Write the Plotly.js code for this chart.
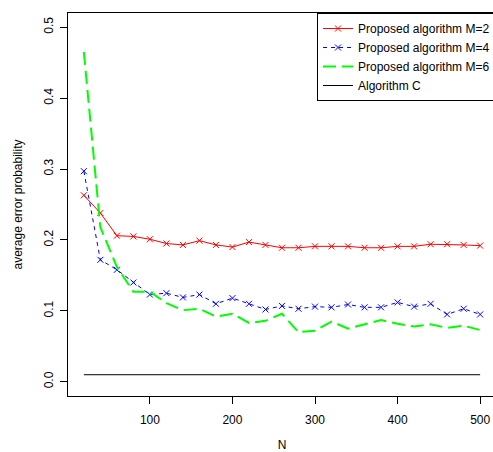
<!DOCTYPE html>
<html>
<head>
<meta charset="utf-8">
<script src="https://cdn.plot.ly/plotly-3.0.1.min.js"></script>
<style>
html, body { margin: 0; padding: 0; overflow: hidden; background: #fff; }
#chart { width: 498px; height: 452px; }
</style>
</head>
<body>
<div id="chart"></div>
<script>
var N = [20, 40, 60, 80, 100, 120, 140, 160, 180, 200, 220, 240, 260, 280, 300, 320, 340, 360, 380, 400, 420, 440, 460, 480, 500];
var m2 = [0.263, 0.238, 0.206, 0.205, 0.201, 0.195, 0.193, 0.199, 0.193, 0.190, 0.197, 0.193, 0.189, 0.189, 0.191, 0.191, 0.191, 0.189, 0.189, 0.191, 0.191, 0.194, 0.194, 0.193, 0.192];
var m4 = [0.297, 0.172, 0.158, 0.140, 0.123, 0.125, 0.119, 0.123, 0.110, 0.118, 0.110, 0.102, 0.107, 0.103, 0.106, 0.105, 0.109, 0.105, 0.105, 0.112, 0.106, 0.110, 0.095, 0.103, 0.095];
var m6 = [0.465, 0.218, 0.162, 0.127, 0.127, 0.111, 0.101, 0.103, 0.092, 0.096, 0.083, 0.086, 0.096, 0.070, 0.072, 0.085, 0.075, 0.081, 0.087, 0.082, 0.078, 0.081, 0.076, 0.079, 0.073];
var algC = [0.01, 0.01, 0.01, 0.01, 0.01, 0.01, 0.01, 0.01, 0.01, 0.01, 0.01, 0.01, 0.01, 0.01, 0.01, 0.01, 0.01, 0.01, 0.01, 0.01, 0.01, 0.01, 0.01, 0.01, 0.01];
var names = ["Proposed algorithm M=2", "Proposed algorithm M=4", "Proposed algorithm M=6", "Algorithm C"];

var font = "Liberation Sans, Arial, Helvetica, sans-serif";

var traces = [
  {x: N, y: m2, name: names[0], mode: "lines+markers", type: "scatter",
   line: {color: "#FF0000", width: 1},
   marker: {symbol: "x-thin-open", size: 6, color: "#FF0000", line: {color: "#FF0000", width: 1}}},
  {x: N, y: m4, name: names[1], mode: "lines+markers", type: "scatter",
   line: {color: "#0000FF", width: 1, dash: "4px,4px"},
   marker: {symbol: "x-thin-open", size: 6, color: "#0000FF", line: {color: "#0000FF", width: 1}}},
  {x: N, y: m6, name: names[2], mode: "lines", type: "scatter",
   line: {color: "#00FF00", width: 2, dash: "13px,6px"}},
  {x: N, y: algC, name: names[3], mode: "lines", type: "scatter",
   line: {color: "#000000", width: 1}}
];

var layout = {
  width: 498, height: 452,
  margin: {l: 68, r: 2, t: 13, b: 56, pad: 0},
  paper_bgcolor: "#fff", plot_bgcolor: "#fff",
  font: {family: font, size: 12, color: "#000"},
  showlegend: true,
  legend: {x: 1, xanchor: "right", y: 1, yanchor: "top",
           bgcolor: "#fff", bordercolor: "#000", borderwidth: 1,
           font: {family: font, size: 12, color: "#000"}},
  xaxis: {range: [0.8, 519.2], tickvals: [100, 200, 300, 400, 500],
          ticks: "outside", ticklen: 7, tickcolor: "#000", tickwidth: 1,
          ticklabelstandoff: 6,
          showline: true, mirror: true, linecolor: "#000", linewidth: 1,
          showgrid: false, zeroline: false,
          tickfont: {family: font, size: 12, color: "#000"},
          title: {text: "N", font: {family: font, size: 12, color: "#000"}, standoff: 16}},
  yaxis: {range: [-0.02, 0.52], tickvals: [0, 0.1, 0.2, 0.3, 0.4, 0.5],
          ticktext: ["0.0", "0.1", "0.2", "0.3", "0.4", "0.5"],
          tickangle: -90,
          ticks: "outside", ticklen: 7, tickcolor: "#000", tickwidth: 1,
          ticklabelstandoff: 2,
          showline: true, mirror: true, linecolor: "#000", linewidth: 1,
          showgrid: false, zeroline: false,
          tickfont: {family: font, size: 12, color: "#000"},
          title: {text: "average error probability", font: {family: font, size: 12, color: "#000"}, standoff: 17}}
};

Plotly.newPlot("chart", traces, layout, {displayModeBar: false, staticPlot: true});
</script>
</body>
</html>
